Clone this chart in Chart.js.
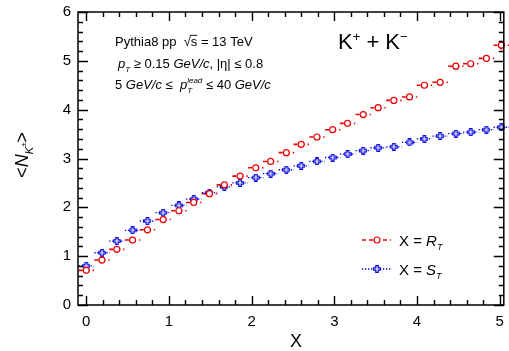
<!DOCTYPE html>
<html>
<head>
<meta charset="utf-8">
<script src="https://cdn.jsdelivr.net/npm/chart.js@4"></script>
<style>
  html, body { margin: 0; padding: 0; background: #fff; }
  canvas { display: block; }
</style>
</head>
<body>
<canvas id="chart" width="509" height="351"></canvas>
<script>
/* global Chart */
// bin centres on the X axis
const xValues = [0.00, 0.19, 0.37, 0.56, 0.74, 0.93, 1.12, 1.30, 1.49, 1.67,
  1.86, 2.05, 2.23, 2.42, 2.60, 2.79, 2.98, 3.16, 3.35, 3.53,
  3.72, 3.91, 4.09, 4.28, 4.47, 4.65, 4.84, 5.02];
const xHalfWidth = 0.093;

// <N_K> vs R_T
const rtValues = [0.71, 0.92, 1.14, 1.33, 1.54, 1.75, 1.93, 2.10, 2.28, 2.46,
  2.64, 2.81, 2.94, 3.12, 3.29, 3.44, 3.59, 3.72, 3.90, 4.04,
  4.19, 4.26, 4.50, 4.56, 4.89, 4.94, 5.05, 5.32];
const rtErrors = [0, 0, 0, 0, 0, 0, 0, 0, 0, 0,
  0, 0, 0, 0, 0, 0, 0, 0, 0, 0.02,
  0.02, 0.03, 0.03, 0.04, 0.05, 0.06, 0.07, 0.09];

// <N_K> vs S_T
const stValues = [0.80, 1.07, 1.31, 1.53, 1.72, 1.89, 2.04, 2.17, 2.30, 2.42,
  2.50, 2.61, 2.69, 2.77, 2.85, 2.94, 3.02, 3.09, 3.16, 3.22,
  3.24, 3.33, 3.40, 3.46, 3.51, 3.54, 3.59, 3.64];

const xTickLabels = ['0', '1', '2', '3', '4', '5'];
const yTickLabels = ['0', '1', '2', '3', '4', '5', '6'];

const RED = '#ee0000';
const BLUE = '#0000dd';
const FONT = "'Liberation Sans', Arial, Helvetica, sans-serif";

Chart.defaults.font.family = FONT;
Chart.defaults.color = '#000';

// open cross marker (ROOT style 28)
function openCross(color) {
  const c = document.createElement('canvas');
  c.width = 8; c.height = 8;
  const g = c.getContext('2d');
  const a = 0.7, b = 2.8, d = 5.2, e = 7.3;
  g.beginPath();
  g.moveTo(b, a); g.lineTo(d, a); g.lineTo(d, b); g.lineTo(e, b); g.lineTo(e, d);
  g.lineTo(d, d); g.lineTo(d, e); g.lineTo(b, e); g.lineTo(b, d); g.lineTo(a, d);
  g.lineTo(a, b); g.lineTo(b, b); g.closePath();
  g.fillStyle = '#fff';
  g.fill();
  g.strokeStyle = color;
  g.lineWidth = 1.2;
  g.stroke();
  return c;
}
const crossMarker = openCross(BLUE);

function fontOf(r) {
  return (r.italic ? 'italic ' : '') + r.size + 'px ' + FONT;
}

function drawRuns(ctx, runs, x, y, align) {
  let total = 0;
  runs.forEach(function(r) {
    ctx.font = fontOf(r);
    r.w = ctx.measureText(r.text).width;
    total += r.adv === 0 ? 0 : r.w;
  });
  let cx = align === 'center' ? x - total / 2 : x;
  ctx.textAlign = 'left';
  ctx.textBaseline = 'alphabetic';
  runs.forEach(function(r) {
    ctx.font = fontOf(r);
    ctx.fillText(r.text, cx, y + (r.dy || 0));
    if (r.overline) {
      ctx.save();
      ctx.lineWidth = 0.9;
      ctx.strokeStyle = ctx.fillStyle;
      ctx.beginPath();
      ctx.moveTo(cx - 1, y - r.size * 0.82);
      ctx.lineTo(cx + r.w, y - r.size * 0.82);
      ctx.stroke();
      ctx.restore();
    }
    if (r.adv !== 0) cx += r.w;
  });
}

const pointsOf = function(values) {
  return xValues.map(function(x, i) { return { x: x, y: values[i] }; });
};

// horizontal (bin width) and vertical error bars
const errorBars = {
  id: 'errorBars',
  beforeDatasetsDraw(chart) {
    const ctx = chart.ctx;
    const xs = chart.scales.x, ys = chart.scales.y;
    ctx.save();
    chart.data.datasets.forEach(function(ds) {
      ctx.strokeStyle = ds.borderColor;
      ctx.lineWidth = ds.errWidth;
      ctx.setLineDash(ds.errDash);
      ds.data.forEach(function(p, i) {
        const px = xs.getPixelForValue(p.x), py = ys.getPixelForValue(p.y);
        ctx.beginPath();
        ctx.moveTo(xs.getPixelForValue(p.x - xHalfWidth), py);
        ctx.lineTo(xs.getPixelForValue(p.x + xHalfWidth), py);
        ctx.stroke();
        const err = ds.yErrors ? ds.yErrors[i] : 0;
        if (err > 0) {
          ctx.beginPath();
          ctx.setLineDash([]);
          ctx.moveTo(px, ys.getPixelForValue(p.y - err));
          ctx.lineTo(px, ys.getPixelForValue(p.y + err));
          ctx.stroke();
          ctx.setLineDash(ds.errDash);
        }
      });
    });
    ctx.restore();
  }
};

// ROOT-like frame with inward ticks on all sides
const frameTicks = {
  id: 'frameTicks',
  afterDatasetsDraw(chart) {
    const ctx = chart.ctx;
    const a = chart.chartArea;
    const xs = chart.scales.x, ys = chart.scales.y;
    ctx.save();
    ctx.strokeStyle = '#000';
    ctx.lineWidth = 1.5;
    ctx.strokeRect(a.left, a.top, a.right - a.left, a.bottom - a.top);
    ctx.lineWidth = 1.4;
    ctx.beginPath();
    for (let k = 0; k <= 60; k += 2) {
      const val = k / 10;
      const major = k % 10 === 0;
      const py = Math.round(ys.getPixelForValue(val)) + 0.5;
      const len = major ? 10 : 5;
      ctx.moveTo(a.left, py); ctx.lineTo(a.left + len, py);
      ctx.moveTo(a.right, py); ctx.lineTo(a.right - len, py);
    }
    for (let k = 0; k <= 50; k += 2) {
      const val = k / 10;
      const major = k % 10 === 0;
      const px = Math.round(xs.getPixelForValue(val)) + 0.5;
      const len = major ? 9 : 5;
      ctx.moveTo(px, a.bottom); ctx.lineTo(px, a.bottom - len);
      ctx.moveTo(px, a.top); ctx.lineTo(px, a.top + len);
    }
    ctx.stroke();
    ctx.restore();
  }
};

// texts, axis titles and legend
const annotations = {
  id: 'annotations',
  afterDraw(chart) {
    const ctx = chart.ctx;
    ctx.save();
    ctx.fillStyle = '#000';

    drawRuns(ctx, [
      { text: 'Pythia8 pp  \u221A', size: 13 },
      { text: 's', size: 13, overline: true },
      { text: ' = 13 TeV', size: 13 }
    ], 115, 46);

    drawRuns(ctx, [
      { text: 'p', size: 13, italic: true },
      { text: 'T', size: 8, italic: true, dy: 4 },
      { text: ' \u2265 0.15 ', size: 13 },
      { text: 'GeV/c', size: 13, italic: true },
      { text: ', |\u03B7| \u2264 0.8', size: 13 }
    ], 118, 68);

    drawRuns(ctx, [
      { text: '5 ', size: 13 },
      { text: 'GeV/c', size: 13, italic: true },
      { text: ' \u2264  ', size: 13 },
      { text: 'p', size: 13, italic: true },
      { text: 'T', size: 8, italic: true, dy: 4, adv: 0 },
      { text: 'lead', size: 8, italic: true, dy: -6 },
      { text: ' \u2264 40 ', size: 13 },
      { text: 'GeV/c', size: 13, italic: true }
    ], 115, 89);

    drawRuns(ctx, [
      { text: 'K', size: 22 },
      { text: '+', size: 13, dy: -8 },
      { text: ' + ', size: 22 },
      { text: 'K', size: 22 },
      { text: '\u2212', size: 13, dy: -8 }
    ], 338, 49);

    // x axis title
    drawRuns(ctx, [{ text: 'X', size: 18 }], 296, 347, 'center');

    // y axis title
    ctx.save();
    ctx.translate(28, 155);
    ctx.rotate(-Math.PI / 2);
    drawRuns(ctx, [
      { text: '<', size: 18 },
      { text: 'N', size: 18, italic: true },
      { text: 'K', size: 11, italic: true, dy: 5 },
      { text: '\u00B1', size: 8, dy: -2 },
      { text: '>', size: 18 }
    ], 0, 0, 'center');
    ctx.restore();

    // legend
    const entries = [
      { ds: chart.data.datasets[0], y: 240, sub: 'T', main: 'R' },
      { ds: chart.data.datasets[1], y: 269, sub: 'T', main: 'S' }
    ];
    entries.forEach(function(e) {
      const ds = e.ds;
      ctx.save();
      ctx.strokeStyle = ds.borderColor;
      ctx.lineWidth = ds.errWidth;
      ctx.setLineDash(ds.errDash);
      ctx.beginPath();
      ctx.moveTo(362, e.y); ctx.lineTo(391, e.y);
      ctx.stroke();
      ctx.setLineDash([]);
      if (ds.pointStyle === 'circle') {
        ctx.fillStyle = '#fff';
        ctx.lineWidth = 1.2;
        ctx.beginPath();
        ctx.arc(377, e.y, 3, 0, Math.PI * 2);
        ctx.fill();
        ctx.stroke();
      } else {
        ctx.drawImage(ds.pointStyle, 377 - 4, e.y - 4);
      }
      ctx.restore();
      drawRuns(ctx, [
        { text: 'X = ', size: 15 },
        { text: e.main, size: 15, italic: true },
        { text: e.sub, size: 9, italic: true, dy: 4 }
      ], 399, e.y + 6);
    });

    ctx.restore();
  }
};

new Chart(document.getElementById('chart'), {
  type: 'scatter',
  data: {
    datasets: [{
      label: 'X = R_T',
      data: pointsOf(rtValues),
      yErrors: rtErrors,
      borderColor: RED,
      backgroundColor: '#fff',
      pointStyle: 'circle',
      pointRadius: 3,
      pointBorderWidth: 1.2,
      pointBackgroundColor: '#fff',
      errWidth: 1.6,
      errDash: [4, 3],
      showLine: false,
      clip: 10
    }, {
      label: 'X = S_T',
      data: pointsOf(stValues),
      borderColor: BLUE,
      backgroundColor: BLUE,
      pointStyle: crossMarker,
      pointRadius: 4,
      errWidth: 1.3,
      errDash: [1.3, 1.7],
      showLine: false,
      clip: 10
    }]
  },
  options: {
    responsive: false,
    animation: false,
    devicePixelRatio: 1,
    layout: { padding: { top: 12, right: 3, left: 0, bottom: 0 } },
    plugins: {
      legend: { display: false },
      tooltip: { enabled: false }
    },
    scales: {
      x: {
        type: 'linear',
        min: -0.1,
        max: 5.05,
        grid: { display: false, drawTicks: false },
        border: { display: false },
        ticks: {
          stepSize: 1,
          includeBounds: false,
          padding: 8,
          font: { size: 15 },
          color: '#000',
          callback: function(v) { return xTickLabels[v] !== undefined ? xTickLabels[v] : ''; }
        },
        afterFit: function(scale) {
          scale.height = 46;
          scale.paddingLeft = 0;
          scale.paddingRight = 0;
        }
      },
      y: {
        min: 0,
        max: 6,
        grid: { display: false, drawTicks: false },
        border: { display: false },
        ticks: {
          stepSize: 1,
          padding: 7,
          font: { size: 15 },
          color: '#000',
          callback: function(v) { return yTickLabels[v] !== undefined ? yTickLabels[v] : ''; }
        },
        afterFit: function(scale) {
          scale.width = 78;
          scale.paddingTop = 0;
          scale.paddingBottom = 0;
        }
      }
    }
  },
  plugins: [errorBars, frameTicks, annotations]
});
</script>
</body>
</html>
